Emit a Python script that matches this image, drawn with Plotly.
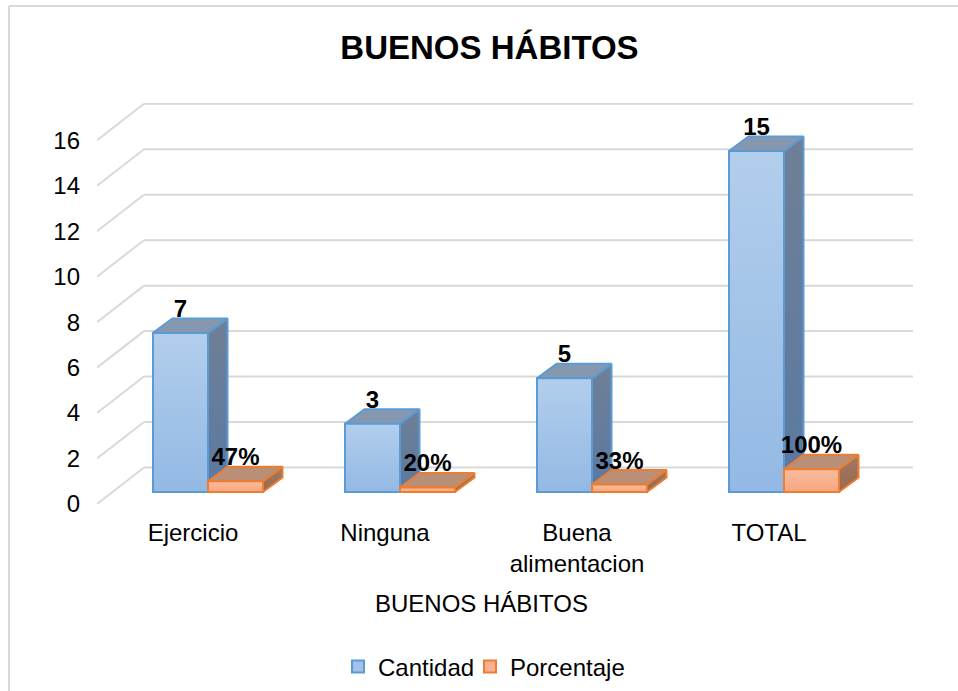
import plotly.graph_objects as go

categories = ["Ejercicio", "Ninguna", "Buena<br>alimentacion", "TOTAL"]
cantidad = [7, 3, 5, 15]
porcentaje = [0.47, 0.20, 0.33, 1.00]
y_ticks = [0, 2, 4, 6, 8, 10, 12, 14, 16]

W, H = 958, 691
L, R, T, B = 97, 913, 103, 504     # plot box in pixels
CAT_PX = 192.0
Y_PX = 22.73
X0_PX = 208.0                      # first group's centre
Y0_PX = 492.0                      # value 0 on the bars' front
FONT = "Liberation Sans"

xr = [(L - X0_PX) / CAT_PX, (R - X0_PX) / CAT_PX]
yr = [(Y0_PX - B) / Y_PX, (Y0_PX - T) / Y_PX]
BAR_W = 55 / CAT_PX
DX, DY = 19.5 / CAT_PX, 14.5 / Y_PX         # bar depth in axis units
WALL_DX, WALL_DY = 47 / CAT_PX, 36.5 / Y_PX # wall depth in axis units
LABEL_DROP = 4.5 / Y_PX
idx = list(range(len(categories)))


def px(x):
    return (x - L) / (R - L)


def py(y):
    return (B - y) / (B - T)


fig = go.Figure()

STYLE = {
    "Cantidad": dict(line="#5B9BD5", bar="#A3C2E8", front=("#B2CEEC", "#93B9E4"),
                     side=("#707F96", "#5A7AA2"), top=("#8598B0", "#8598B0")),
    "Porcentaje": dict(line="#ED7D31", bar="#F8B090", front=("#F9BC9E", "#F6A67F"),
                       side=("#A07A64", "#96694F"), top=("#B98F78", "#B98F78")),
}
series = [("Cantidad", cantidad, -BAR_W), ("Porcentaje", porcentaje, 0.0)]

for (name, vals, off), leg in zip(series, ["legend", "legend2"]):
    st = STYLE[name]
    fig.add_bar(x=idx, y=vals, name=name, width=BAR_W, offset=off, legend=leg,
                showlegend=True,
                marker=dict(color=st["bar"], line=dict(color=st["line"], width=2)))


def poly(xs, ys, colors, line):
    fig.add_scatter(x=xs, y=ys, mode="lines", fill="toself", showlegend=False,
                    hoverinfo="skip", line=dict(color=line, width=2),
                    fillgradient=dict(type="vertical",
                                      colorscale=[[0, colors[1]], [1, colors[0]]]))


for name, vals, off in series:
    st = STYLE[name]
    for i, v in zip(idx, vals):
        a, b = i + off, i + off + BAR_W
        poly([b, b + DX, b + DX, b, b], [0, DY, v + DY, v, 0], st["side"], st["line"])
        poly([a, b, b + DX, a + DX, a], [v, v, v + DY, v + DY, v], st["top"], st["line"])
        poly([a, b, b, a, a], [0, 0, v, v, 0], st["front"], st["line"])

for (name, vals, off), labels in zip(series, [[str(v) for v in cantidad],
                                              [f"{round(v * 100)}%" for v in porcentaje]]):
    fig.add_scatter(x=[i + off + BAR_W / 2 for i in idx],
                    y=[v + DY - LABEL_DROP for v in vals],
                    mode="text", text=labels, textposition="top center",
                    showlegend=False, hoverinfo="skip", cliponaxis=False,
                    textfont=dict(family=FONT, size=24, color="#000000", weight="bold"))

shapes = []
GRID = dict(color="#D9D9D9", width=2)
for t in y_ticks:
    back_y = t + WALL_DY + yr[0]
    shapes.append(dict(type="line", xref="x", yref="y", layer="below", line=GRID,
                       x0=xr[0], y0=yr[0] + t, x1=xr[0] + WALL_DX, y1=back_y))
    shapes.append(dict(type="line", xref="x", yref="y", layer="below", line=GRID,
                       x0=xr[0] + WALL_DX, y0=back_y, x1=xr[1], y1=back_y))
FRAME = dict(color="#D9D9D9", width=2)
shapes.append(dict(type="line", xref="paper", yref="paper", layer="below", line=FRAME,
                   x0=px(9), x1=px(W), y0=py(6), y1=py(6)))
shapes.append(dict(type="line", xref="paper", yref="paper", layer="below", line=FRAME,
                   x0=px(9), x1=px(9), y0=py(6), y1=py(H)))


def legend_at(x_px):
    return dict(orientation="h", xref="paper", yref="paper", x=px(x_px), xanchor="left",
                y=py(667), yanchor="middle", bgcolor="rgba(0,0,0,0)",
                font=dict(family=FONT, size=24, color="#000000"))


fig.update_layout(
    width=W, height=H, autosize=False,
    margin=dict(l=L, r=W - R, t=T, b=H - B, pad=0, autoexpand=False),
    paper_bgcolor="white", plot_bgcolor="rgba(0,0,0,0)",
    barmode="overlay", shapes=shapes,
    font=dict(family=FONT, size=24, color="#000000"),
    title=dict(text="<b>BUENOS HÁBITOS</b>", xref="paper", yref="container",
               x=px(489.5), xanchor="center", y=1 - 47 / H, yanchor="middle",
               font=dict(family=FONT, size=33, color="#000000")),
    xaxis=dict(range=xr, tickmode="array", tickvals=idx, ticktext=categories,
               showgrid=False, zeroline=False, showline=False, ticks="",
               automargin=False, ticklabelshift=-15, ticklabelstandoff=12,
               tickfont=dict(family=FONT, size=24, color="#000000")),
    yaxis=dict(range=yr, tickmode="array", tickvals=y_ticks, ticktext=[str(t) for t in y_ticks],
               showgrid=False, zeroline=False, showline=False, ticks="",
               automargin=False, ticklabelshift=12, ticklabelstandoff=16,
               tickfont=dict(family=FONT, size=24, color="#000000")),
    legend=legend_at(338),
    legend2=legend_at(470),
    annotations=[dict(text="BUENOS HÁBITOS", xref="paper", yref="paper", x=px(481.5),
                      y=py(603), xanchor="center", yanchor="middle", showarrow=False,
                      font=dict(family=FONT, size=24, color="#000000"))],
)

fig.write_html("out.html", config=dict(displayModeBar=False),
               post_script="document.body.style.margin='0';document.body.style.overflow='hidden';")
